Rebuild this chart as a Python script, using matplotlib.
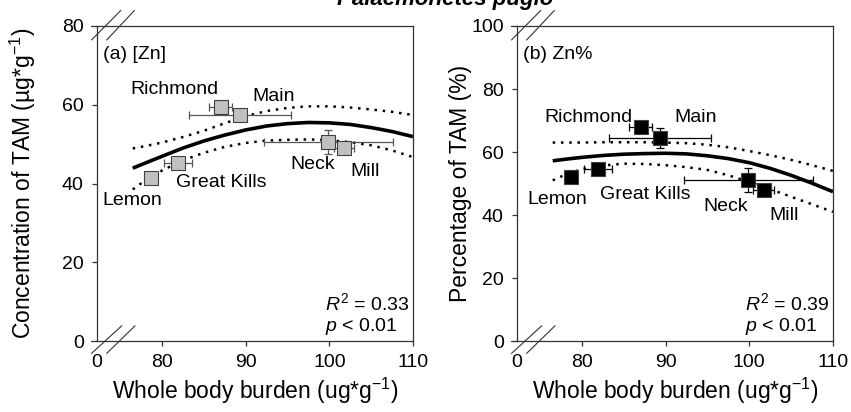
import matplotlib
matplotlib.use("Agg")
import matplotlib.pyplot as plt
from matplotlib.lines import Line2D

plt.rcParams['font.family'] = ['Liberation Sans', 'DejaVu Sans']
plt.rcParams['mathtext.fontset'] = 'custom'
plt.rcParams['mathtext.rm'] = 'Liberation Sans'
plt.rcParams['mathtext.it'] = 'Liberation Sans:italic'

# sites: Lemon, Great Kills, Richmond, Main, Neck, Mill
sites = ['Lemon', 'Great Kills', 'Richmond', 'Main', 'Neck', 'Mill']
burden = [78.7, 81.9, 87.0, 89.3, 99.9, 101.7]
burden_err = [0.4, 1.7, 1.4, 6.1, 7.7, 1.2]
zn_conc = [41.4, 45.3, 59.5, 57.4, 50.6, 48.9]
zn_conc_err = [0.5, 0.5, 1.0, 1.0, 3.1, 1.0]
zn_pct = [52.0, 54.6, 68.0, 64.5, 51.1, 47.9]
zn_pct_err = [0.5, 0.5, 1.0, 3.2, 3.7, 1.0]

# regression curves and 95% bands
fit_x = [76.5, 78, 80, 82.5, 85, 87.5, 90, 92.5, 95, 97.5, 100, 102.5, 105, 107.5, 110]
conc_fit = [43.9, 45.2, 46.9, 49.0, 50.8, 52.3, 53.6, 54.6, 55.2, 55.5, 55.4, 55.0, 54.2, 53.2, 51.9]
conc_upper = [48.9, 49.5, 50.4, 51.8, 53.4, 55.3, 57.1, 58.4, 59.2, 59.6, 59.6, 59.3, 58.8, 58.2, 57.4]
conc_lower = [38.5, 40.8, 43.3, 45.9, 47.8, 49.3, 50.3, 50.9, 51.1, 51.2, 51.0, 50.5, 49.7, 48.4, 46.7]
pct_fit = [57.2, 57.7, 58.3, 58.9, 59.3, 59.5, 59.6, 59.4, 58.8, 57.9, 56.6, 54.8, 52.6, 50.1, 47.4]
pct_upper = [63.0, 63.0, 63.0, 63.1, 63.1, 63.1, 63.0, 62.8, 62.3, 61.5, 60.3, 59.0, 57.5, 55.8, 54.0]
pct_lower = [51.0, 52.8, 54.6, 55.7, 56.3, 56.2, 55.8, 55.2, 54.3, 52.6, 50.5, 48.2, 45.8, 43.4, 41.0]

# label positions (x, y) for each site
conc_label_pos = [(76.4, 35.6), (87.1, 40.3), (81.5, 63.9), (93.3, 62.0), (98.0, 44.7), (104.3, 43.0)]
pct_label_pos = [(77.1, 44.8), (87.6, 46.6), (80.8, 71.0), (93.6, 71.0), (97.2, 42.6), (104.1, 40.0)]

x_min = 72.23
x_ticks = [x_min, 80, 90, 100, 110]
x_ticklabels = ['0', '80', '90', '100', '110']

fig = plt.figure(figsize=(8.51, 4.12), dpi=100)
ax1 = fig.add_axes([0.114, 0.1723, 0.3713, 0.7646])
ax2 = fig.add_axes([0.6075, 0.1723, 0.3713, 0.7646])


def draw_panel(ax, y, yerr, fit, upper, lower, pos, face, ecol, ymax, yticks,
               ylabel, tag, r2, ylab_x):
    ax.plot(fit_x, fit, color='black', lw=2.6, solid_capstyle='butt', zorder=2)
    for band in (upper, lower):
        ax.plot(fit_x, band, color='black', lw=1.8, linestyle=(0, (1, 2.3)),
                dash_capstyle='butt', zorder=2)
    ax.errorbar(burden, y, xerr=burden_err, yerr=yerr, fmt='none', ecolor=ecol,
                elinewidth=0.9, capsize=3, capthick=0.9, zorder=3)
    ax.plot(burden, y, 's', ms=10.5, mfc=face, mec='#404040', mew=0.8, zorder=4)
    for name, (tx, ty) in zip(sites, pos):
        ax.text(tx, ty, name, fontsize=14, ha='center', va='center', zorder=5)

    ax.set_xlim(x_min, 110)
    ax.set_ylim(0, ymax)
    ax.set_xticks(x_ticks)
    ax.set_xticklabels(x_ticklabels)
    ax.set_yticks(yticks)
    ax.tick_params(direction='out', length=3.5, width=0.9, labelsize=14,
                   color='#333333', pad=6)
    ax.xaxis.get_major_ticks()[0].tick1line.set_visible(False)
    for s in ax.spines.values():
        s.set_linewidth(0.9)
        s.set_color('#333333')

    ax.set_xlabel('Whole body burden (ug*g$^{-1}$)', fontsize=16.5)
    ax.xaxis.set_label_coords(0.5, -0.11)
    ax.set_ylabel(ylabel, fontsize=16.5)
    ax.yaxis.set_label_coords(ylab_x, 0.5)

    ax.text(0.02, 0.91, tag, transform=ax.transAxes, fontsize=14,
            ha='left', va='center')
    ax.text(0.722, 0.12, '$R^2$ = ' + r2, transform=ax.transAxes,
            fontsize=14, ha='left', va='center')
    ax.text(0.722, 0.045, '$p$ < 0.01', transform=ax.transAxes,
            fontsize=14, ha='left', va='center')

    # axis break marks and short spine stubs left of the y axis
    for (x0, y0, x1, y1) in [(-0.017, -0.039, 0.078, 0.048),
                             (0.031, -0.039, 0.120, 0.048),
                             (-0.017, 0.956, 0.075, 1.049),
                             (0.031, 0.956, 0.118, 1.049),
                             (-0.02, 0.0, 0.0, 0.0),
                             (-0.02, 1.0, 0.0, 1.0)]:
        ax.add_line(Line2D([x0, x1], [y0, y1], transform=ax.transAxes,
                           color='#333333', lw=0.8, clip_on=False))


draw_panel(ax1, zn_conc, zn_conc_err, conc_fit, conc_upper, conc_lower,
           conc_label_pos, '#c0c0c0', '#555555', 80, [0, 20, 40, 60, 80],
           'Concentration of TAM (\u00b5g*g$^{-1}$)', '(a) [Zn]', '0.33', -0.187)
draw_panel(ax2, zn_pct, zn_pct_err, pct_fit, pct_upper, pct_lower,
           pct_label_pos, 'black', 'black', 100, [0, 20, 40, 60, 80, 100],
           'Percentage of TAM (%)', '(b) Zn%', '0.39', -0.143)

# title is cut off at the top edge in the original figure
fig.text(0.523, 0.988, 'Palaemonetes pugio', fontsize=16, fontweight='bold',
         fontstyle='italic', ha='center', va='baseline')

fig.savefig('out.png', dpi=100)
